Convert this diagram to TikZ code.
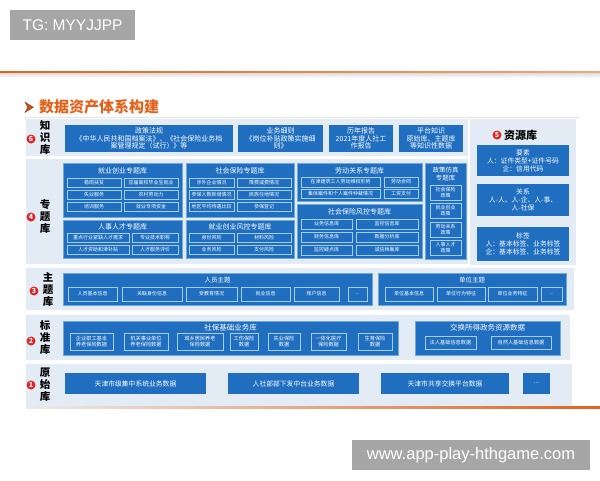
\documentclass[tikz,border=0pt]{standalone}
\usepackage{fontspec}
\setmainfont{Noto Sans CJK SC}
\newfontfamily\wmfont{Liberation Sans}
\definecolor{boxc}{HTML}{1F6EBF}
\definecolor{edgec}{HTML}{6FA8DC}
\definecolor{ibc}{HTML}{A4CDF2}
\definecolor{bandc}{HTML}{E3EBF4}
\definecolor{numc}{HTML}{E02424}
\definecolor{orc}{HTML}{E2621B}
\definecolor{orl}{HTML}{F3A77C}
\definecolor{wmc}{HTML}{A6A6A6}
\newcommand\bxx[7][]{%
  \pgfmathsetmacro\bxcx{(#3+#5)/2}%
  \pgfmathsetmacro\bxcy{(#4+#6)/2}%
  \pgfmathsetmacro\bxw{#5-#3}%
  \pgfmathsetmacro\bxh{#6-#4}%
  \node[#1,minimum width=\bxw pt,minimum height=\bxh pt] (#2) at (\bxcx,\bxcy) {#7};}
\begin{document}
\begin{tikzpicture}[x=1pt,y=-1pt,
 band/.style={fill=bandc,draw=none,inner sep=0pt},
 obox/.style={fill=boxc,draw=edgec,line width=0.5pt,inner sep=0pt},
 kbox/.style={fill=boxc,draw=none,inner sep=0pt,text=white,align=center,font=\fontsize{7}{7.8}\selectfont},
 rbox/.style={fill=boxc,draw=none,inner sep=0pt,text=white,align=center,font=\fontsize{6.8}{8}\selectfont},
 ibox/.style={fill=boxc,draw=ibc,line width=0.5pt,inner sep=0pt,text=white,align=center,font=\fontsize{5}{6}\selectfont},
 sbox/.style={ibox,font=\fontsize{5.2}{6.2}\selectfont},
 ttl/.style={text=white,inner sep=0pt,align=center,font=\fontsize{7}{8}\selectfont},
 lab/.style={align=center,inner sep=0pt,font=\fontsize{10.5}{12}\selectfont\bfseries},
 num/.style={circle,fill=numc,text=white,inner sep=0pt,minimum size=9pt,font=\fontsize{7}{7}\selectfont\bfseries},
 wm/.style={fill=wmc,text=white,inner sep=0pt,font=\wmfont\fontsize{15.5}{16}\selectfont}
 ]
\useasboundingbox (0,0) rectangle (600,480);
% header
\node[wm,minimum width=125pt,minimum height=30pt] (wm1) at (72.5,25) {TG: MYYJJPP};
\shade[left color=orc,right color=orl] (0,71) rectangle (600,73.5);
\shade[top color=black!12,bottom color=white] (0,73.5) rectangle (600,78);
\filldraw[fill=orc!85!black,draw=orc!60!black,line width=0.3pt] (25,102) -- (33.5,107.3) -- (25,112.5) -- (27.6,107.3) -- cycle;
\node[anchor=west,inner sep=0pt,text=orc,font=\fontsize{15}{15}\selectfont\bfseries] (title) at (39,107) {数据资产体系构建};
\draw[black!10,line width=0.6pt] (25,117.5) -- (580,117.5);
% bands
\bxx[band]{bk}{26}{119}{468}{156}{}
\bxx[band]{bt}{26}{159}{468}{264}{}
\bxx[band]{br}{470}{119}{576}{265}{}
\bxx[band]{bth}{26}{268}{574}{310}{}
\bxx[band]{bs}{26}{315}{570}{360}{}
\bxx[band]{bo}{26}{364}{572}{406}{}
% row labels
\node[num] (n6) at (31,139) {6}; \node[lab] (l6) at (45,138) {知\\识\\库};
\node[num] (n4) at (31,217) {4}; \node[lab] (l4) at (45,216) {专\\题\\库};
\node[num] (n3) at (34,291) {3}; \node[lab] (l3) at (48,289) {主\\题\\库};
\node[num] (n2) at (31,341) {2}; \node[lab] (l2) at (45,338) {标\\准\\库};
\node[num] (n1) at (31,385) {1}; \node[lab] (l1) at (45,385) {原\\始\\库};
% knowledge
\bxx[kbox]{k1}{65}{125}{233}{152}{政策法规\\《中华人民共和国档案法》、《社会保险业务档\\案管理规定（试行）》等}
\bxx[kbox]{k2}{238}{125}{323}{152}{业务细则\\《岗位补贴政策实施细\\则》}
\bxx[kbox]{k3}{329}{125}{393}{152}{历年报告\\2021年度人社工\\作报告}
\bxx[kbox]{k4}{399}{125}{463}{152}{平台知识\\原始库、主题库\\等知识性数据}
% topic: employment
\bxx[obox]{t1}{63}{163}{182}{217}{}
\node[ttl] (t1t) at (122.5,170.5) {就业创业专题库};
\bxx[ibox]{t1a}{67}{178}{121}{187}{稳岗扶贫}
\bxx[ibox]{t1b}{124}{178}{178}{187}{应届高校毕业生就业}
\bxx[ibox]{t1c}{67}{190}{121}{199}{失业服务}
\bxx[ibox]{t1d}{124}{190}{178}{199}{农村劳动力}
\bxx[ibox]{t1e}{67}{202}{121}{211}{培训服务}
\bxx[ibox]{t1f}{124}{202}{178}{211}{就业专项资金}
\bxx[obox]{t2}{63}{220}{182}{258}{}
\node[ttl] (t2t) at (122.5,227) {人事人才专题库};
\bxx[ibox]{t2a}{67}{233}{129}{242}{重点行业紧缺人才需求}
\bxx[ibox]{t2b}{132}{233}{178}{242}{专业技术职称}
\bxx[ibox]{t2c}{67}{245}{129}{254}{人才资助和津补贴}
\bxx[ibox]{t2d}{132}{245}{178}{254}{人才服务评价}
% topic: social insurance
\bxx[obox]{t3}{186}{163}{294}{217}{}
\node[ttl] (t3t) at (240,170.5) {社会保险专题库};
\bxx[ibox]{t3a}{189}{178}{234}{187}{涉外企业情况}
\bxx[ibox]{t3b}{237}{178}{291}{187}{降费减费情况}
\bxx[ibox]{t3c}{189}{190}{234}{199}{参保人数新增情况}
\bxx[ibox]{t3d}{237}{190}{291}{199}{民族住地情况}
\bxx[ibox]{t3e}{189}{202}{234}{211}{地区平均待遇比较}
\bxx[ibox]{t3f}{237}{202}{291}{211}{参保登记}
\bxx[obox]{t4}{186}{220}{294}{258}{}
\node[ttl] (t4t) at (240,227) {就业创业风控专题库};
\bxx[ibox]{t4a}{189}{233}{234}{242}{身份风险}
\bxx[ibox]{t4b}{237}{233}{291}{242}{材料风险}
\bxx[ibox]{t4c}{189}{245}{234}{254}{业务风险}
\bxx[ibox]{t4d}{237}{245}{291}{254}{支付风险}
% topic: labour
\bxx[obox]{t5}{297}{163}{422}{201}{}
\node[ttl] (t5t) at (359.5,170.5) {劳动关系专题库};
\bxx[ibox]{t5a}{301}{177}{380}{187}{在津建筑工人劳动维权形势}
\bxx[ibox]{t5b}{384}{177}{418}{187}{劳动合同}
\bxx[ibox]{t5c}{301}{189}{380}{198}{集体案件和个人案件仲裁情况}
\bxx[ibox]{t5d}{384}{189}{418}{198}{工资支付}
\bxx[obox]{t6}{297}{204}{422}{258}{}
\node[ttl] (t6t) at (359.5,211.5) {社会保险风控专题库};
\bxx[ibox]{t6a}{301}{219}{352}{229}{业务信息库}
\bxx[ibox]{t6b}{356}{219}{418}{229}{监控信息库}
\bxx[ibox]{t6c}{301}{232}{352}{242}{财务信息库}
\bxx[ibox]{t6d}{356}{232}{418}{242}{数据分析库}
\bxx[ibox]{t6e}{301}{245}{352}{255}{监控疑点库}
\bxx[ibox]{t6f}{356}{245}{418}{255}{诚信档案库}
% topic: policy simulation
\bxx[obox]{t7}{425}{163}{466}{259}{}
\node[ttl,font=\fontsize{6.5}{7.5}\selectfont] (t7t) at (445.5,174) {政策仿真\\专题库};
\bxx[ibox]{t7a}{430}{185}{461}{200}{社会保险\\政策}
\bxx[ibox]{t7b}{430}{203}{461}{218}{就业创业\\政策}
\bxx[ibox]{t7c}{430}{222}{461}{237}{劳动关系\\政策}
\bxx[ibox]{t7d}{430}{240}{461}{255}{人事人才\\政策}
% resource library
\node[num] (n5) at (497,135) {5};
\node[anchor=west,inner sep=0pt,font=\fontsize{11}{11}\selectfont\bfseries] (rt) at (504,135) {资源库};
\bxx[rbox]{r1}{477}{145}{569}{176}{要素\\人：证件类型+证件号码\\企：信用代码}
\bxx[rbox]{r2}{477}{184}{569}{216}{关系\\人-人、人-企、人-事、\\人-社保}
\bxx[rbox]{r3}{477}{227}{569}{261}{标签\\人：基本标签、业务标签\\企：基本标签、业务标签}
% theme library
\bxx[obox]{p}{63}{273}{372}{305}{}
\node[ttl,font=\fontsize{6.5}{7}\selectfont] (pt) at (217.5,280) {人员主题};
\bxx[ibox]{p1}{68}{287}{117}{301}{人员基本信息}
\bxx[ibox]{p2}{122}{287}{182}{301}{关联身份信息}
\bxx[ibox]{p3}{186}{287}{237}{301}{受教育情况}
\bxx[ibox]{p4}{241}{287}{290}{301}{就业信息}
\bxx[ibox]{p5}{294}{287}{339}{301}{账户信息}
\bxx[ibox]{p6}{348}{287}{367}{301}{...}
\bxx[obox]{u}{378}{273}{566}{305}{}
\node[ttl,font=\fontsize{6.5}{7}\selectfont] (ut) at (472,280) {单位主题};
\bxx[ibox]{u1}{385}{287}{433}{301}{单位基本信息}
\bxx[ibox]{u2}{437}{287}{485}{301}{单位行为特征}
\bxx[ibox]{u3}{488}{287}{537}{301}{单位业务特征}
\bxx[ibox]{u4}{541}{287}{562}{301}{...}
% standard library
\bxx[obox]{s}{63}{321}{398}{355}{}
\node[ttl,font=\fontsize{7.5}{8}\selectfont] (st) at (230.5,327.5) {社保基础业务库};
\bxx[sbox]{s1}{70}{333}{113}{350}{企业职工基本\\养老保险数据}
\bxx[sbox]{s2}{124}{333}{168}{350}{机关事业单位\\养老保险数据}
\bxx[sbox]{s3}{177}{333}{223}{350}{城乡居民养老\\保险数据}
\bxx[sbox]{s4}{230}{333}{258}{350}{工伤保险\\数据}
\bxx[sbox]{s5}{268}{333}{300}{350}{失业保险\\数据}
\bxx[sbox]{s6}{311}{333}{346}{350}{一体化医疗\\保险数据}
\bxx[sbox]{s7}{358}{333}{392}{350}{生育保险\\数据}
\bxx[obox]{e}{415}{321}{560}{355}{}
\node[ttl,font=\fontsize{7.5}{8}\selectfont] (et) at (487.5,327.5) {交换所得政务资源数据};
\bxx[sbox]{e1}{425}{336}{476}{349}{法人基础信息数据}
\bxx[sbox]{e2}{491}{336}{551}{349}{自然人基础信息数据}
% original library
\bxx[rbox]{o1}{65}{373}{206}{394}{天津市级集中系统业务数据}
\bxx[rbox]{o2}{228}{373}{359}{394}{人社部部下发中台业务数据}
\bxx[rbox]{o3}{381}{373}{509}{394}{天津市共享交换平台数据}
\bxx[rbox]{o4}{523}{373}{550}{394}{...}
\shade[left color=black!8,right color=orc] (26,406.5) rectangle (600,408.5);
% footer watermark
\node[wm,font=\wmfont\fontsize{16.5}{17}\selectfont,minimum width=238pt,minimum height=30pt] (wm2) at (471,455) {www.app-play-hthgame.com};
\end{tikzpicture}
\end{document}
